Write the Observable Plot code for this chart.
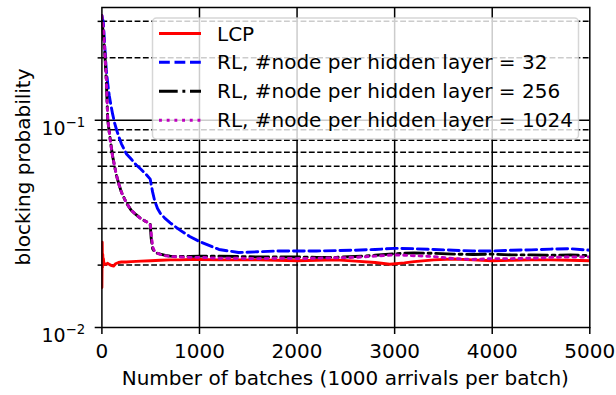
<!DOCTYPE html>
<html><head><meta charset="utf-8">
<script src="https://cdn.jsdelivr.net/npm/d3@7"></script>
<script src="https://cdn.jsdelivr.net/npm/@observablehq/plot@0.6"></script>
<style>html,body{margin:0;padding:0;background:#fff;} svg{display:block}</style>
</head><body><div id="chart"></div>
<script>
// ---- data ----
const batches = [0,15,30,45,60,75,90,110,130,150,175,200,250,300,350,400,450,495,505,520,540,570,600,650,700,800,900,
  1000,1200,1400,1600,1800,2000,2200,2400,2600,2800,3000,3200,3400,3600,3800,4000,4200,4400,4600,4800,5000];
const rl32 = [0.32,0.295,0.225,0.175,0.150,0.132,0.120,0.107,0.097,0.090,0.083,0.077,0.069,0.065,0.061,0.058,0.055,0.052,0.049,0.045,0.041,0.0375,0.0355,0.0335,0.032,0.0295,0.0275,
  0.026,0.0238,0.0230,0.0232,0.0234,0.0234,0.0234,0.0235,0.0236,0.0238,0.0241,0.0240,0.0238,0.0236,0.0234,0.0234,0.0236,0.0237,0.0239,0.0240,0.0236];
const rl256 = [0.30,0.26,0.21,0.155,0.100,0.088,0.078,0.067,0.060,0.054,0.049,0.045,0.040,0.0368,0.0350,0.0335,0.0325,0.0315,0.0270,0.0240,0.0232,0.0228,0.0226,0.0223,0.0221,0.0220,0.0220,
  0.0221,0.0221,0.0220,0.0219,0.0219,0.0219,0.0218,0.0218,0.0220,0.0223,0.0227,0.0229,0.0228,0.0226,0.0225,0.0226,0.0224,0.0224,0.0223,0.0224,0.0222];
const rl1024 = [0.32,0.28,0.215,0.16,0.102,0.088,0.077,0.067,0.060,0.054,0.049,0.045,0.040,0.0368,0.0350,0.0335,0.0325,0.0315,0.0285,0.0245,0.0233,0.0228,0.0225,0.0222,0.0220,0.0219,0.0218,
  0.0218,0.0216,0.0216,0.0215,0.0216,0.0215,0.0216,0.0217,0.0218,0.0221,0.0224,0.0222,0.0220,0.0215,0.0213,0.0215,0.0215,0.0216,0.0218,0.0219,0.0219];
const lcpBatches = [0,3,6,9,12,15,20,30,45,60,80,100,120,140,170,200,250,300,400,500,600,700,800,900,
  1000,1200,1400,1600,1800,2000,2200,2400,2600,2800,2950,3100,3200,3400,3600,3800,4000,4200,4400,4600,4800,5000];
const lcp = [0.0156,0.0258,0.0195,0.0225,0.0200,0.0215,0.0205,0.0203,0.0202,0.0204,0.0201,0.0199,0.0198,0.0203,0.0206,0.0207,0.0207,0.0208,0.0209,0.0210,0.0211,0.0212,0.0212,0.0213,
  0.0213,0.0212,0.0212,0.0212,0.0211,0.0210,0.0211,0.0212,0.0209,0.0206,0.0202,0.0205,0.0208,0.0212,0.0214,0.0212,0.0210,0.0211,0.0212,0.0212,0.0211,0.0210];
const seriesNames = ["LCP","RL, #node per hidden layer = 32","RL, #node per hidden layer = 256","RL, #node per hidden layer = 1024"];
const xTicks = [0,1000,2000,3000,4000,5000];
const yTicks = [0.01,0.1];
const yMinor = [0.02,0.03,0.04,0.05,0.06,0.07,0.08,0.09,0.2,0.3];
const xLabel = "Number of batches (1000 arrivals per batch)";
const yLabel = "blocking probability";

// ---- styles ----
const FONT = "'DejaVu Sans', sans-serif";
const FS = 20;
const seriesStyles = [
  {stroke:"#ff0000", dash:null},
  {stroke:"#0000ff", dash:"10.8,4.7"},
  {stroke:"#000000", dash:"18.7,4.7,2.9,4.7"},
  {stroke:"#bf00bf", dash:"2.9,4.8"}
];
const LW = 2.9;

const tables = [
  lcpBatches.map((b,i)=>({b, v: lcp[i]})),
  batches.map((b,i)=>({b, v: rl32[i]})),
  batches.map((b,i)=>({b, v: rl256[i]})),
  batches.map((b,i)=>({b, v: rl1024[i]}))
];

const chart = Plot.plot({
  width: 616, height: 395,
  marginLeft: 101.4, marginRight: 26.7, marginTop: 7, marginBottom: 68,
  style: {fontFamily: FONT, fontSize: FS + "px", color: "black", background: "white", overflow: "visible"},
  x: {domain: [0, 5000]},
  y: {type: "log", domain: [0.01, 0.35]},
  marks: [
    Plot.ruleY(yMinor, {stroke: "black", strokeWidth: 1.5, strokeDasharray: "5.8,2.5"}),
    Plot.ruleY([0.1], {stroke: "black", strokeWidth: 1.5}),
    Plot.ruleX(xTicks.filter(d => d > 0 && d < 5000), {stroke: "black", strokeWidth: 1.5}),
    ...tables.map((t,i) => Plot.line(t, {x: "b", y: "v", stroke: seriesStyles[i].stroke, strokeWidth: LW,
        strokeDasharray: seriesStyles[i].dash, strokeLinejoin: "round", clip: true})),
    Plot.frame({stroke: "black", strokeWidth: 1.5}),
    Plot.axisX(xTicks, {tickSize: 7, tickPadding: 9, strokeWidth: 1.5, label: null, fontSize: FS,
        tickFormat: d => String(d)}),
    Plot.axisY(yTicks, {tickSize: 6.7, tickPadding: 10, strokeWidth: 1.5, label: null, fontSize: 19,
        tickFormat: d => "10^" + Math.round(Math.log10(d))}),
    Plot.axisY(yMinor, {tickSize: 3.8, strokeWidth: 1.5, label: null, tickFormat: () => ""})
  ]
});

const svg = d3.select(chart);
// superscript tick labels
svg.selectAll('g[aria-label="y-axis tick label"] text').each(function(){
  const t = d3.select(this);
  const m = t.text().match(/^10\^(-?\d+)$/);
  if (!m) return;
  t.text(null).attr("dy", "0.43em");
  t.append("tspan").text("10");
  t.append("tspan").attr("font-size", "0.7em").attr("dy", "-0.58em").text(m[1].replace("-", "\u2212"));
});

// axis labels
svg.append("text").attr("x", 345.3).attr("y", 384.5).attr("text-anchor", "middle")
  .attr("font-family", FONT).attr("font-size", FS).attr("fill", "black").text(xLabel);
svg.append("text").attr("transform", "translate(30,167) rotate(-90)").attr("text-anchor", "middle")
  .attr("font-family", FONT).attr("font-size", FS).attr("fill", "black").text(yLabel);

// legend
const lg = svg.append("g");
lg.append("rect").attr("x", 152.5).attr("y", 18).attr("width", 426).attr("height", 121).attr("rx", 4)
  .attr("fill", "white").attr("fill-opacity", 0.8).attr("stroke", "#cccccc").attr("stroke-opacity", 0.8).attr("stroke-width", 1.5);
const rowBase = [40.5, 69.3, 98.3, 127.3];
seriesNames.forEach((name, i) => {
  lg.append("line").attr("x1", 159).attr("x2", 201).attr("y1", rowBase[i] - 7).attr("y2", rowBase[i] - 7)
    .attr("stroke", seriesStyles[i].stroke).attr("stroke-width", LW)
    .attr("stroke-dasharray", seriesStyles[i].dash);
  lg.append("text").attr("x", 217).attr("y", rowBase[i]).attr("text-anchor", "start")
    .attr("font-family", FONT).attr("font-size", FS).attr("fill", "black").text(name);
});

document.getElementById("chart").appendChild(chart);
</script></body></html>
